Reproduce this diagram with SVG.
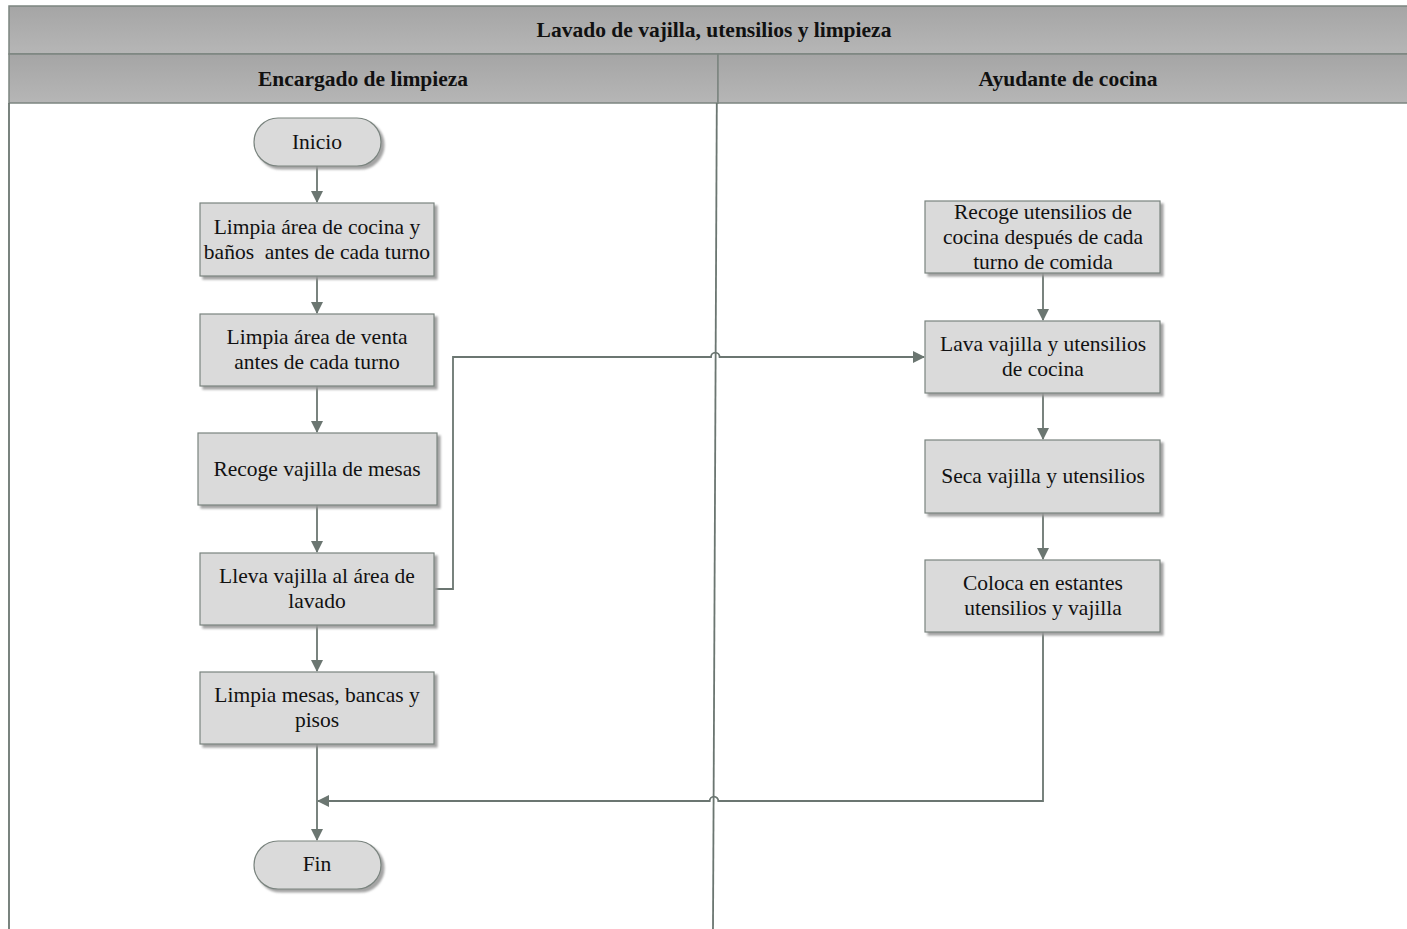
<svg xmlns="http://www.w3.org/2000/svg" width="1407" height="929" viewBox="0 0 1407 929">
  <defs>
    <linearGradient id="hdr" x1="0" y1="0" x2="0" y2="1">
      <stop offset="0" stop-color="#a5a5a5"/>
      <stop offset="1" stop-color="#b6b6b6"/>
    </linearGradient>
    <marker id="arr" markerWidth="12" markerHeight="12" refX="11" refY="6" orient="auto" markerUnits="userSpaceOnUse">
      <path d="M0,0 L12,6 L0,12 Z" fill="#6b7671"/>
    </marker>
    <filter id="sh" x="-10%" y="-10%" width="130%" height="140%">
      <feDropShadow dx="3" dy="3" stdDeviation="0.8" flood-color="#9a9a9a" flood-opacity="0.9"/>
    </filter>
  </defs>
  <style>
    .lane { fill: url(#hdr); stroke: #7c8580; stroke-width: 1.5; }
    .ht { font-family: "Liberation Serif", serif; font-weight: bold; font-size: 21.5px; fill: #111; text-anchor: middle; }
    .box { fill: #dadada; stroke: #7a847f; stroke-width: 1.2; filter: url(#sh); }
    .t { font-family: "Liberation Serif", serif; font-size: 21.5px; fill: #111; text-anchor: middle; }
    .c { fill: none; stroke: #6b7671; stroke-width: 1.8; }
    .frame { fill: none; stroke: #6b7671; stroke-width: 1.8; }
  </style>

  <rect width="1407" height="929" fill="#ffffff"/>

  <!-- pool title and lane headers -->
  <g id="pool">
    <rect class="lane" x="9" y="6" width="1410" height="48"/>
    <text class="ht" x="714" y="37">Lavado de vajilla, utensilios y limpieza</text>
    <rect class="lane" x="9" y="54" width="709" height="49"/>
    <rect class="lane" x="718" y="54" width="700" height="49"/>
    <text class="ht" x="363" y="86">Encargado de limpieza</text>
    <text class="ht" x="1068" y="86">Ayudante de cocina</text>
    <line class="frame" x1="9" y1="103" x2="9" y2="929"/>
    <line class="frame" x1="716.8" y1="103" x2="713" y2="929"/>
  </g>

  <!-- connectors -->
  <g id="connectors">
    <line class="c" x1="317" y1="166" x2="317" y2="202" marker-end="url(#arr)"/>
    <line class="c" x1="317" y1="276" x2="317" y2="313" marker-end="url(#arr)"/>
    <line class="c" x1="317" y1="386" x2="317" y2="432" marker-end="url(#arr)"/>
    <line class="c" x1="317" y1="505" x2="317" y2="552" marker-end="url(#arr)"/>
    <line class="c" x1="317" y1="625" x2="317" y2="671" marker-end="url(#arr)"/>
    <line class="c" x1="317" y1="744" x2="317" y2="840" marker-end="url(#arr)"/>
    <path class="c" d="M435,589 H453 V357 H711 a4.3,4.3 0 0 1 8.6,0 H924" marker-end="url(#arr)"/>
    <line class="c" x1="1043" y1="273" x2="1043" y2="320" marker-end="url(#arr)"/>
    <line class="c" x1="1043" y1="393" x2="1043" y2="439" marker-end="url(#arr)"/>
    <line class="c" x1="1043" y1="513" x2="1043" y2="559" marker-end="url(#arr)"/>
    <path class="c" d="M1043,632 V801 H718.3 a4.3,4.3 0 0 0 -8.6,0 H318" marker-end="url(#arr)"/>
  </g>

  <!-- Encargado de limpieza -->
  <g id="inicio">
    <rect class="box" x="254" y="118" width="127" height="48" rx="24"/>
    <text class="t" x="317" y="149">Inicio</text>
  </g>
  <g id="limpia-cocina">
    <rect class="box" x="200" y="203" width="234" height="73"/>
    <text class="t" x="317" y="234">Limpia área de cocina y</text>
    <text class="t" x="317" y="259" xml:space="preserve">baños  antes de cada turno</text>
  </g>
  <g id="limpia-venta">
    <rect class="box" x="200" y="314" width="234" height="72"/>
    <text class="t" x="317" y="344">Limpia área de venta</text>
    <text class="t" x="317" y="369">antes de cada turno</text>
  </g>
  <g id="recoge-vajilla">
    <rect class="box" x="198" y="433" width="239" height="72"/>
    <text class="t" x="317" y="476">Recoge vajilla de mesas</text>
  </g>
  <g id="lleva-vajilla">
    <rect class="box" x="200" y="553" width="234" height="72"/>
    <text class="t" x="317" y="583">Lleva vajilla al área de</text>
    <text class="t" x="317" y="608">lavado</text>
  </g>
  <g id="limpia-mesas">
    <rect class="box" x="200" y="672" width="234" height="72"/>
    <text class="t" x="317" y="702">Limpia mesas, bancas y</text>
    <text class="t" x="317" y="727">pisos</text>
  </g>
  <g id="fin">
    <rect class="box" x="254" y="841" width="127" height="48" rx="24"/>
    <text class="t" x="317" y="871">Fin</text>
  </g>

  <!-- Ayudante de cocina -->
  <g id="recoge-utensilios">
    <rect class="box" x="925" y="201" width="235" height="72"/>
    <text class="t" x="1043" y="219">Recoge utensilios de</text>
    <text class="t" x="1043" y="244">cocina después de cada</text>
    <text class="t" x="1043" y="269">turno de comida</text>
  </g>
  <g id="lava-vajilla">
    <rect class="box" x="925" y="321" width="235" height="72"/>
    <text class="t" x="1043" y="351">Lava vajilla y utensilios</text>
    <text class="t" x="1043" y="376">de cocina</text>
  </g>
  <g id="seca-vajilla">
    <rect class="box" x="925" y="440" width="235" height="73"/>
    <text class="t" x="1043" y="483">Seca vajilla y utensilios</text>
  </g>
  <g id="coloca-estantes">
    <rect class="box" x="925" y="560" width="235" height="72"/>
    <text class="t" x="1043" y="590">Coloca en estantes</text>
    <text class="t" x="1043" y="615">utensilios y vajilla</text>
  </g>
</svg>
